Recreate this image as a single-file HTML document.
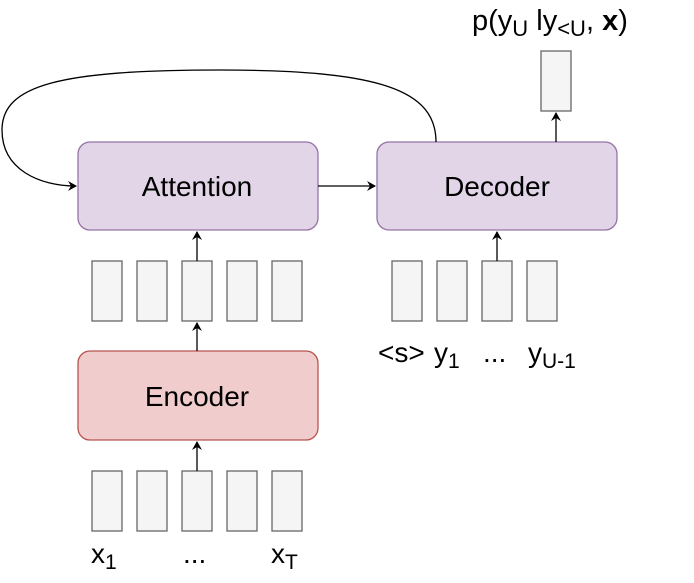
<!DOCTYPE html><html><head><style>body{margin:0;background:#fff}svg{display:block}text{font-family:"Liberation Sans",sans-serif;fill:#000}</style></head><body>
<svg width="694" height="583" viewBox="0 0 694 583">
<defs><marker id="a" markerWidth="10" markerHeight="10" refX="8" refY="5" orient="auto" markerUnits="userSpaceOnUse"><path d="M0,0 L9,5 L0,10 L3,5z" fill="#000"/></marker></defs>
<g stroke="#9673a6" stroke-width="1.3" fill="#e1d5e7">
<rect x="78" y="142" width="240" height="88" rx="12"/>
<rect x="377" y="142" width="240" height="88" rx="12"/>
</g>
<rect x="78" y="351" width="240" height="89" rx="12" fill="#f0cccc" stroke="#b85450" stroke-width="1.3"/>
<g fill="#f5f5f5" stroke="#666" stroke-width="1.3">
<rect x="92" y="261" width="30" height="60"/><rect x="137" y="261" width="30" height="60"/><rect x="182" y="261" width="30" height="60"/><rect x="227" y="261" width="30" height="60"/><rect x="272" y="261" width="30" height="60"/>
<rect x="92" y="471" width="30" height="60"/><rect x="137" y="471" width="30" height="60"/><rect x="182" y="471" width="30" height="60"/><rect x="227" y="471" width="30" height="60"/><rect x="272" y="471" width="30" height="60"/>
<rect x="392" y="261" width="30" height="60"/><rect x="437" y="261" width="30" height="60"/><rect x="482" y="261" width="30" height="60"/><rect x="527" y="261" width="30" height="60"/>
<rect x="541" y="51" width="30" height="60"/>
</g>
<g stroke="#000" stroke-width="1.3" fill="none" marker-end="url(#a)">
<line x1="197" y1="471" x2="197" y2="442"/>
<line x1="197" y1="351" x2="197" y2="323"/>
<line x1="197" y1="261" x2="197" y2="232"/>
<line x1="497" y1="261" x2="497" y2="232"/>
<line x1="556" y1="142" x2="556" y2="113"/>
<line x1="318" y1="186" x2="375" y2="186"/>
<path d="M436,142 C436,90 380,70 220,70 C60,70 2,85 2,130 C2,170 40,186 76,186"/>
</g>
<g font-size="28" text-anchor="middle">
<text x="197" y="196">Attention</text>
<text x="497" y="196">Decoder</text>
<text x="197" y="406">Encoder</text>
</g>
<g font-size="28">
<text x="472" y="30" font-size="29">p(y<tspan font-size="22" dy="6">U</tspan><tspan dy="-6"> ly</tspan><tspan font-size="22" dy="6">&lt;U</tspan><tspan dy="-6">, </tspan><tspan font-weight="bold">x</tspan>)</text>
<text x="378" y="362">&lt;s&gt;</text>
<text x="434" y="362">y<tspan font-size="21" dy="6">1</tspan></text>
<text x="483" y="362">...</text>
<text x="528" y="362">y<tspan font-size="21" dy="6">U-1</tspan></text>
<text x="91" y="563">x<tspan font-size="21" dy="6">1</tspan></text>
<text x="183" y="563">...</text>
<text x="271" y="563">x<tspan font-size="21" dy="6">T</tspan></text>
</g>
</svg></body></html>
